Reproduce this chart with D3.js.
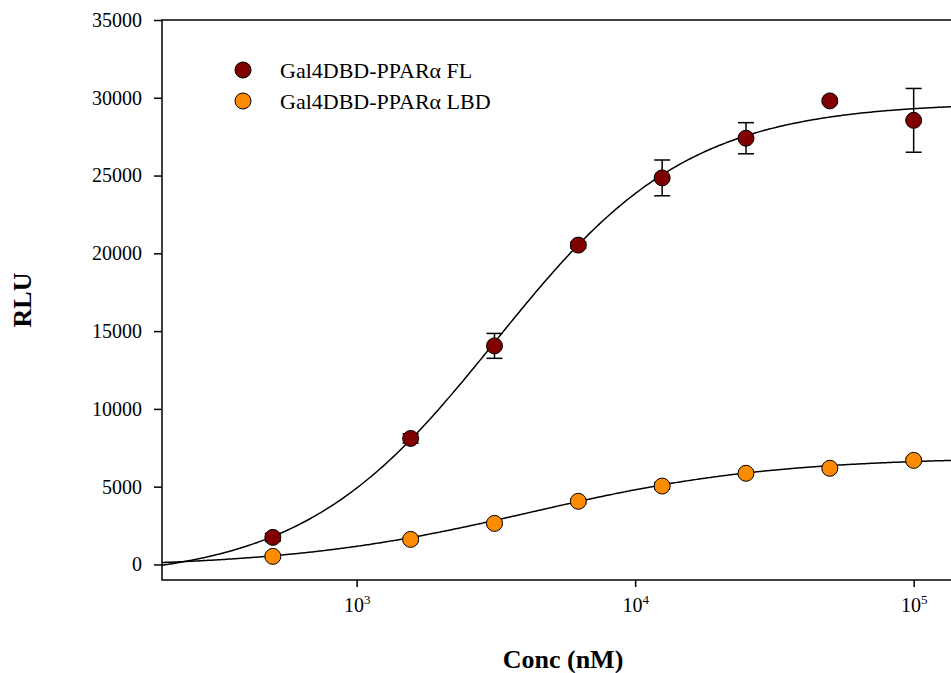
<!DOCTYPE html>
<html>
<head>
<meta charset="utf-8">
<script src="https://cdn.jsdelivr.net/npm/d3@7"></script>
<style>
    body { margin: 0; background: #fff; }
    svg { display: block; overflow: hidden; }
    text { font-family: "Liberation Serif", "Times New Roman", serif; fill: #000; }
</style>
</head>
<body>
<svg id="chart" width="951" height="673"></svg>
<script>
'use strict';

// concentrations (nM)
var conc = [500, 1562.5, 3125, 6250, 12500, 25000, 50000, 100000];

// Gal4DBD-PPARα FL
var flMean = [1740, 8100, 14050, 20530, 24850, 27400, 29800, 28550];
var flErr  = [250, 300, 800, 200, 1150, 1000, 150, 2050];

// Gal4DBD-PPARα LBD
var lbdMean = [520, 1610, 2640, 4060, 5040, 5860, 6180, 6690];
var lbdErr  = [100, 120, 120, 150, 200, 150, 120, 150];

// fitted 4-parameter logistic: [bottom, top, EC50, hill]
var flFit  = [-1000, 29700, 3150, 1.25];
var lbdFit = [-200, 6900, 4200, 1.0];

var yTicks = [0, 5000, 10000, 15000, 20000, 25000, 30000, 35000];
var xTicks = [1000, 10000, 100000];

var series = [
    {name: "Gal4DBD-PPARα FL", mean: flMean, err: flErr, fit: flFit, color: "#800000"},
    {name: "Gal4DBD-PPARα LBD", mean: lbdMean, err: lbdErr, fit: lbdFit, color: "#ff8c00"}
];

var plotLeft = 162, plotTop = 20, plotBottom = 580;

var x = d3.scaleLog()
        .domain([200, 200000])
        .range([plotLeft, plotLeft + 3 * 278.5]);
var y = d3.scaleLinear()
        .domain([-1000, 35000])
        .range([plotBottom, plotTop]);

var svg = d3.select("#chart");

// frame: left, top, bottom
svg.append("path")
    .attr("d", "M" + (x.range()[1] + 5) + "," + plotTop + "H" + plotLeft + "V" + plotBottom + "H" + (x.range()[1] + 5))
    .attr("fill", "none")
    .attr("stroke", "#000")
    .attr("stroke-width", 1.5);

// y axis
var yAxis = svg.append("g")
    .attr("transform", "translate(" + plotLeft + ",0)")
    .call(d3.axisLeft(y).tickValues(yTicks).tickSize(8).tickPadding(12).tickFormat(d3.format("d")));
yAxis.select(".domain").remove();
yAxis.selectAll(".tick line").attr("stroke", "#000").attr("stroke-width", 1.5);
yAxis.selectAll(".tick text")
    .style("font-family", "'Liberation Serif', serif")
    .style("font-size", "20px")
    .attr("fill", "#000");

// x axis
var xAxis = svg.append("g")
    .attr("transform", "translate(0," + plotBottom + ")")
    .call(d3.axisBottom(x).tickValues(xTicks).tickSize(7).tickPadding(14).tickFormat(""));
xAxis.select(".domain").remove();
xAxis.selectAll(".tick line").attr("stroke", "#000").attr("stroke-width", 1.5);
xAxis.selectAll(".tick text").remove();
xAxis.selectAll(".tick").append("text")
    .attr("y", 32)
    .attr("text-anchor", "middle")
    .style("font-size", "20px")
    .each(function(d) {
        var t = d3.select(this);
        t.append("tspan").text("10");
        t.append("tspan")
            .attr("dy", -8)
            .style("font-size", "13px")
            .text(Math.round(Math.log10(d)));
    });

// axis titles
svg.append("text")
    .attr("x", 563)
    .attr("y", 668)
    .attr("text-anchor", "middle")
    .style("font-size", "26px")
    .style("font-weight", "bold")
    .text("Conc (nM)");

svg.append("text")
    .attr("transform", "translate(31,300) rotate(-90)")
    .attr("text-anchor", "middle")
    .style("font-size", "26px")
    .style("font-weight", "bold")
    .text("RLU");

// fitted curves
var logistic = function(p, c) {
    return p[0] + (p[1] - p[0]) / (1 + Math.pow(p[2] / c, p[3]));
};
var curveX = d3.range(0, 301).map(function(i) {
    return Math.pow(10, Math.log10(200) + i * 3 / 300);
});
var line = d3.line()
        .x(function(d) { return x(d[0]); })
        .y(function(d) { return y(d[1]); })
        .curve(d3.curveMonotoneX);

series.forEach(function(s) {
    svg.append("path")
        .datum(curveX.map(function(c) { return [c, logistic(s.fit, c)]; }))
        .attr("d", line)
        .attr("fill", "none")
        .attr("stroke", "#000")
        .attr("stroke-width", 1.5);
});

// error bars + points
series.forEach(function(s) {
    var g = svg.append("g");
    var pts = conc.map(function(c, i) { return {c: c, m: s.mean[i], e: s.err[i]}; });

    var eb = g.selectAll("g.eb")
            .data(pts)
            .enter().append("g")
            .attr("class", "eb")
            .attr("stroke", "#000")
            .attr("stroke-width", 1.5);
    eb.append("line")
        .attr("x1", function(d) { return x(d.c); })
        .attr("x2", function(d) { return x(d.c); })
        .attr("y1", function(d) { return y(d.m + d.e); })
        .attr("y2", function(d) { return y(d.m - d.e); });
    eb.append("line")
        .attr("x1", function(d) { return x(d.c) - 8; })
        .attr("x2", function(d) { return x(d.c) + 8; })
        .attr("y1", function(d) { return y(d.m + d.e); })
        .attr("y2", function(d) { return y(d.m + d.e); });
    eb.append("line")
        .attr("x1", function(d) { return x(d.c) - 8; })
        .attr("x2", function(d) { return x(d.c) + 8; })
        .attr("y1", function(d) { return y(d.m - d.e); })
        .attr("y2", function(d) { return y(d.m - d.e); });

    g.selectAll("circle")
        .data(pts)
        .enter().append("circle")
        .attr("cx", function(d) { return x(d.c); })
        .attr("cy", function(d) { return y(d.m); })
        .attr("r", 8)
        .attr("fill", s.color)
        .attr("stroke", "#000")
        .attr("stroke-width", 1);
});

// legend
var legend = svg.append("g")
        .selectAll("g")
        .data(series)
        .enter().append("g")
        .attr("transform", function(d, i) { return "translate(243," + (70 + i * 31) + ")"; });
legend.append("circle")
    .attr("r", 8)
    .attr("fill", function(d) { return d.color; })
    .attr("stroke", "#000")
    .attr("stroke-width", 1);
legend.append("text")
    .attr("x", 37)
    .attr("dy", "0.35em")
    .style("font-size", "22px")
    .text(function(d) { return d.name; });
</script>
</body>
</html>
